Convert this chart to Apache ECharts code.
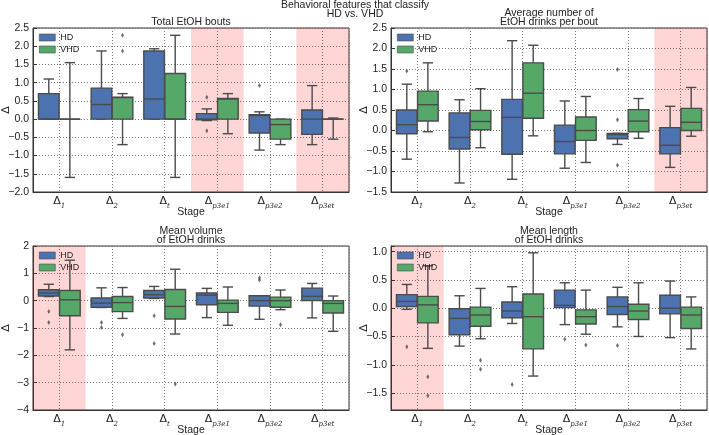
<!DOCTYPE html>
<html>
<head>
<meta charset="utf-8">
<script src="https://cdn.jsdelivr.net/npm/echarts@6/dist/echarts.min.js"></script>
<style>
  html, body { margin: 0; padding: 0; background: #fff; }
  #main { width: 709px; height: 435px; }
</style>
</head>
<body>
<div id="main"></div>
<script>
// stage subscripts (labels are Δ + subscript)
const stages = ['1', '2', 't', 'p3e1', 'p3e2', 'p3et'];
const panelTitles = [
  'Total EtOH bouts',
  'Average number of\nEtOH drinks per bout',
  'Mean volume\nof EtOH drinks',
  'Mean length\nof EtOH drinks'
];
const yMins = [-2, -1.5, -4, -1.8];
const yMaxs = [2.5, 2.5, 2, 1.1];
const ySteps = [0.5, 0.5, 1, 0.5];
// stages highlighted in each panel
const shadedStages = [[3, 5], [5], [0], [0]];

// box stats per stage: [min, q1, median, q3, max]
const boutsHD = [[0, 0, 0, 0.7, 1.1], [0, 0, 0.4, 0.85, 1.87], [0, 0, 0.55, 1.87, 1.93],
  [-0.04, -0.02, 0, 0.15, 0.28], [-0.85, -0.38, 0.1, 0.12, 0.2], [-0.7, -0.42, 0, 0.25, 0.92]];
const boutsVHD = [[-1.6, 0, 0, 0, 1.55], [-0.7, 0, 0.59, 0.6, 0.7], [-1.6, 0, 0, 1.25, 2.3],
  [-0.4, 0, 0.55, 0.57, 0.7], [-0.7, -0.55, -0.15, 0, 0], [-0.55, 0, 0, 0, 0.03]];
const boutsOutHD = [[3, 0.6], [3, -0.32], [4, 0.92]];
const boutsOutVHD = [[1, 2.3], [1, 1.87]];

const drinksHD = [[-0.7, -0.08, 0.14, 0.5, 1.13], [-1.28, -0.45, -0.17, 0.43, 0.75], [-1.19, -0.58, 0.32, 0.76, 2.19],
  [-0.92, -0.57, -0.27, 0.13, 0.72], [-0.34, -0.2, -0.1, -0.07, -0.07], [-0.9, -0.57, -0.36, 0.07, 0.59]];
const drinksVHD = [[-0.03, 0.23, 0.63, 0.96, 1.65], [-0.42, 0.02, 0.22, 0.49, 1.02], [-0.13, 0.3, 0.91, 1.65, 2.08],
  [-0.78, -0.24, 0, 0.33, 0.83], [-0.19, -0.03, 0.23, 0.51, 0.78], [-0.14, 0, 0.2, 0.54, 1.05]];
const drinksOutHD = [[0, 1.45], [4, 1.49], [4, 0.26], [4, -0.85]];
const drinksOutVHD = [];

const volumeHD = [[0.15, 0.17, 0.28, 0.4, 0.6], [-0.25, -0.24, -0.09, 0.1, 0.47], [0.08, 0.1, 0.22, 0.37, 0.52],
  [-0.62, -0.15, 0.2, 0.28, 0.45], [-0.68, -0.2, 0, 0.18, 0.18], [-0.63, 0, 0.16, 0.46, 0.63]];
const volumeVHD = [[-1.8, -0.55, 0.03, 0.37, 1.48], [-0.65, -0.4, -0.07, 0.15, 0.48], [-1.22, -0.67, -0.21, 0.41, 1.15],
  [-0.9, -0.43, -0.1, 0.02, 0.5], [-0.33, -0.24, 0, 0.13, 0.39], [-1.12, -0.45, -0.1, 0, 0.17]];
const volumeOutHD = [[0, -0.4], [0, -0.8], [1, -0.8], [1, -0.98], [2, -0.55], [2, -1.57], [4, 0.76], [4, 0.84]];
const volumeOutVHD = [[1, -1.25], [2, -3.05], [4, -0.88]];

const lengthHD = [[-0.02, 0.03, 0.12, 0.24, 0.42], [-0.67, -0.47, -0.18, -0.01, 0.22], [-0.27, -0.17, -0.05, 0.11, 0.38],
  [-0.29, 0.01, 0.05, 0.32, 0.45], [-0.33, -0.11, 0.03, 0.2, 0.37], [-0.52, -0.1, 0, 0.23, 0.48]];
const lengthVHD = [[-0.71, -0.26, 0.06, 0.21, 0.75], [-0.54, -0.32, -0.12, 0.02, 0.35], [-1.2, -0.72, -0.15, 0.25, 0.98],
  [-0.46, -0.28, -0.15, -0.03, 0.32], [-0.5, -0.2, -0.05, 0.07, 0.45], [-0.72, -0.36, -0.12, 0.02, 0.2]];
const lengthOutHD = [[0, -0.68], [2, -1.35], [3, -0.55], [4, -0.66]];
const lengthOutVHD = [[0, -1.21], [0, -1.55], [1, -0.92], [1, -1.08], [3, -0.65]];

const panelsHD = [boutsHD, drinksHD, volumeHD, lengthHD];
const panelsVHD = [boutsVHD, drinksVHD, volumeVHD, lengthVHD];
const outliersHD = [boutsOutHD, drinksOutHD, volumeOutHD, lengthOutHD];
const outliersVHD = [boutsOutVHD, drinksOutVHD, volumeOutVHD, lengthOutVHD];

const colorHD = '#4c72b0';
const colorVHD = '#55a868';
const edge = '#4b4b4b';
const font = 'Liberation Sans, Arial, sans-serif';
const gridPos = [[33, 28], [391, 28], [33, 246], [391, 246]];
const gridW = 316, gridH = 164;

function boxRenderer(offset) {
  return function (params, api) {
    const i = api.value(0);
    const bw = api.size([1, 0])[0];
    const cx = api.coord([i + offset, 0])[0];
    const hw = bw * 0.4 * 0.98 / 2;
    const cw = hw / 2;
    const y = k => api.coord([i, api.value(k)])[1];
    const yMin = y(1), yQ1 = y(2), yMed = y(3), yQ3 = y(4), yMax = y(5);
    const ls = { stroke: edge, lineWidth: 1.4 };
    return {
      type: 'group',
      children: [
        { type: 'line', shape: { x1: cx, y1: yQ1, x2: cx, y2: yMin }, style: ls },
        { type: 'line', shape: { x1: cx, y1: yQ3, x2: cx, y2: yMax }, style: ls },
        { type: 'line', shape: { x1: cx - cw, y1: yMin, x2: cx + cw, y2: yMin }, style: ls },
        { type: 'line', shape: { x1: cx - cw, y1: yMax, x2: cx + cw, y2: yMax }, style: ls },
        { type: 'rect', shape: { x: cx - hw, y: yQ3, width: 2 * hw, height: yQ1 - yQ3 },
          style: { fill: api.visual('color'), stroke: edge, lineWidth: 1.4 } },
        { type: 'line', shape: { x1: cx - hw, y1: yMed, x2: cx + hw, y2: yMed }, style: ls }
      ]
    };
  };
}

function yLabel(g) {
  return v => {
    const k = v / ySteps[g];
    if (Math.abs(k - Math.round(k)) > 1e-6) return '';
    const s = ySteps[g] < 1 ? v.toFixed(1) : String(Math.round(v));
    return s.replace('-', '\u2212');
  };
}

function xLabel(v) {
  const i = Math.round(v);
  if (Math.abs(v - i) > 1e-6 || i < 0 || i >= stages.length) return '';
  return '{d|\u0394}{s|' + stages[i] + '}';
}

const grids = [], xAxes = [], yAxes = [], series = [], titles = [], legends = [];

titles.push({
  text: 'Behavioral features that classify\nHD vs. VHD',
  left: 355, top: 0, textAlign: 'center', textVerticalAlign: 'top', padding: 0,
  textStyle: { fontFamily: font, fontSize: 10.5, lineHeight: 9.5, fontWeight: 'normal', color: '#222' }
});

gridPos.forEach(([l, t], g) => {
  grids.push({ left: l, top: t, width: gridW, height: gridH, show: true, borderColor: '#333', borderWidth: 1,
    outerBoundsMode: 'none' });
  const twoLine = panelTitles[g].indexOf('\n') >= 0;
  titles.push({
    text: panelTitles[g], left: l + gridW / 2, top: twoLine ? t - 20 : t - 11,
    textAlign: 'center', textVerticalAlign: 'top', padding: 0,
    textStyle: { fontFamily: font, fontSize: 10.5, lineHeight: 9.7, fontWeight: 'normal', color: '#222' }
  });
  xAxes.push({
    type: 'value', gridIndex: g, min: -0.5, max: 5.5, minInterval: 1, maxInterval: 1,
    name: 'Stage', nameLocation: 'middle', nameGap: 15, nameMoveOverlap: false,
    nameTextStyle: { fontFamily: font, fontSize: 10.5, color: '#222' },
    axisLine: { onZero: false, lineStyle: { color: '#333' } },
    axisTick: { show: false },
    splitLine: { show: true, lineStyle: { type: [1, 2], color: '#777', width: 1 } },
    axisLabel: {
      formatter: xLabel, margin: 4, color: '#222',
      rich: {
        d: { fontFamily: 'DejaVu Sans', fontSize: 11, color: '#222', verticalAlign: 'bottom', padding: [0, 0, 3, 0] },
        s: { fontFamily: 'DejaVu Serif', fontStyle: 'italic', fontSize: 7, color: '#222', verticalAlign: 'bottom' }
      }
    }
  });
  yAxes.push({
    type: 'value', gridIndex: g, min: yMins[g], max: yMaxs[g],
    minInterval: ySteps[g], maxInterval: ySteps[g],
    name: '\u0394', nameLocation: 'middle', nameGap: 21, nameRotate: 90, nameMoveOverlap: false,
    nameTextStyle: { fontFamily: 'DejaVu Sans', fontSize: 11, color: '#222' },
    axisLine: { show: true, onZero: false, lineStyle: { color: '#333' } },
    axisTick: { show: true, inside: true, length: 4, lineStyle: { color: '#333' } },
    splitLine: { show: true, lineStyle: { type: [1, 2], color: '#777', width: 1 } },
    axisLabel: { formatter: yLabel(g), margin: 4, fontFamily: font, fontSize: 10.5, color: '#222' }
  });
  legends.push({
    left: l + 6, top: t + 5, orient: 'vertical', itemWidth: 16, itemHeight: 7, itemGap: 3,
    icon: 'rect', padding: 0, selectedMode: false,
    textStyle: { fontFamily: font, fontSize: 9, color: '#222' },
    data: [
      { name: 'HD', itemStyle: { color: colorHD, borderColor: edge, borderWidth: 0.6 } },
      { name: 'VHD', itemStyle: { color: colorVHD, borderColor: edge, borderWidth: 0.6 } }
    ]
  });
  [['HD', panelsHD[g], outliersHD[g], colorHD, -0.2], ['VHD', panelsVHD[g], outliersVHD[g], colorVHD, 0.2]]
    .forEach(([name, boxes, outs, color, off], k) => {
      const s = {
        type: 'custom', name: name, xAxisIndex: g, yAxisIndex: g,
        itemStyle: { color: color },
        encode: { x: 0, y: [1, 2, 3, 4, 5] },
        renderItem: boxRenderer(off),
        data: boxes.map((b, i) => [i].concat(b)),
        z: 3
      };
      if (k === 0) {
        s.markArea = {
          silent: true,
          itemStyle: { color: 'rgba(255, 0, 0, 0.16)' },
          data: shadedStages[g].map(i => [{ xAxis: i - 0.5 }, { xAxis: i + 0.5 }])
        };
      }
      series.push(s);
      series.push({
        type: 'scatter', name: name, xAxisIndex: g, yAxisIndex: g,
        symbol: 'diamond', symbolSize: [3, 5], z: 4,
        itemStyle: { color: edge },
        data: outs.map(([i, v]) => [i + off, v])
      });
    });
});

const chart = echarts.init(document.getElementById('main'));
chart.setOption({
  animation: false,
  title: titles,
  legend: legends,
  grid: grids,
  xAxis: xAxes,
  yAxis: yAxes,
  series: series
});
</script>
</body>
</html>
